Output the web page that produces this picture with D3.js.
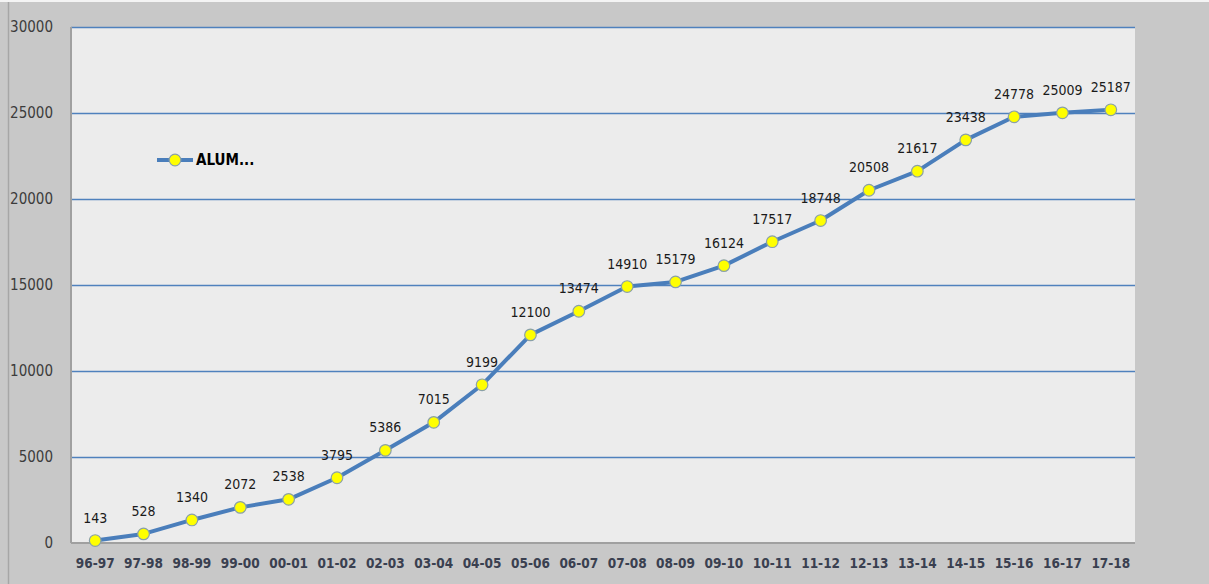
<!DOCTYPE html>
<html>
<head>
<meta charset="utf-8">
<script src="https://cdn.jsdelivr.net/npm/d3@7"></script>
<style>
  html, body { margin: 0; padding: 0; background: #c8c8c8; }
  svg { display: block; }
</style>
</head>
<body>
<div id="chart"></div>
<script>
// school years and enrolment (ALUM...)
var years = ['96-97', '97-98', '98-99', '99-00', '00-01', '01-02', '02-03', '03-04', '04-05', '05-06', '06-07',
             '07-08', '08-09', '09-10', '10-11', '11-12', '12-13', '13-14', '14-15', '15-16', '16-17', '17-18'];
var alumnos = [143, 528, 1340, 2072, 2538, 3795, 5386, 7015, 9199, 12100, 13474,
               14910, 15179, 16124, 17517, 18748, 20508, 21617, 23438, 24778, 25009, 25187];
var yTicks = [0, 5000, 10000, 15000, 20000, 25000, 30000];
var seriesName = 'ALUM...';

var WIDTH = 1209, HEIGHT = 584;
var margin = {left: 71, top: 27, right: 74, bottom: 41};
var w = WIDTH - margin.left - margin.right,
    h = HEIGHT - margin.top - margin.bottom;

var svg = d3.select('#chart').append('svg').attr('width', WIDTH).attr('height', HEIGHT);

svg.append('rect').attr('width', WIDTH).attr('height', HEIGHT).attr('fill', '#c8c8c8');
svg.append('rect').attr('width', WIDTH).attr('height', 2).attr('fill', '#f4f4f4');
svg.append('line').attr('x1', 8.5).attr('x2', 8.5).attr('y1', 2).attr('y2', HEIGHT)
    .attr('stroke', '#a6a6a6').attr('stroke-width', 1.5);

var g = svg.append('g').attr('transform', 'translate(' + margin.left + ',' + margin.top + ')');

var x = d3.scaleBand().domain(years).range([0, w]);
var y = d3.scaleLinear().domain([0, 30000]).range([h, 0]);

g.append('rect').attr('width', w).attr('height', h).attr('fill', '#ececec');

// gridlines
g.selectAll('.grid').data(yTicks.filter(function(d) { return d > 0; }))
  .enter().append('line')
    .attr('x1', 0).attr('x2', w)
    .attr('y1', function(d) { return Math.round(y(d)) + 0.5; })
    .attr('y2', function(d) { return Math.round(y(d)) + 0.5; })
    .attr('stroke', '#4f81bd').attr('stroke-width', 1.3);

// axes borders
g.append('line').attr('x1', 0).attr('x2', 0).attr('y1', 0).attr('y2', h)
  .attr('stroke', '#a0a0a0').attr('stroke-width', 2);
g.append('line').attr('x1', 0).attr('x2', w).attr('y1', h).attr('y2', h)
  .attr('stroke', '#a0a0a0').attr('stroke-width', 2);

// y labels
g.selectAll('.ylab').data(yTicks).enter().append('text')
  .attr('x', -18).attr('y', function(d) { return y(d); })
  .attr('dy', '0.35em').attr('text-anchor', 'end')
  .style('font-family', 'DejaVu Sans Condensed').style('font-size', '15px').attr('fill', '#3c3c3c')
  .text(function(d) { return d; });

// x labels
g.selectAll('.xlab').data(years).enter().append('text')
  .attr('x', function(d) { return x(d) + x.bandwidth() / 2; })
  .attr('y', h + 20).attr('dy', '0.35em').attr('text-anchor', 'middle')
  .style('font-family', 'DejaVu Sans Condensed').style('font-weight', 'bold')
  .style('font-size', '13.5px').attr('fill', '#3a4050')
  .text(function(d) { return d; });

var line = d3.line()
  .x(function(d, i) { return x(years[i]) + x.bandwidth() / 2; })
  .y(function(d) { return y(d); });

g.append('path').datum(alumnos).attr('d', line)
  .attr('fill', 'none').attr('stroke', '#4a7ebb').attr('stroke-width', 4)
  .attr('stroke-linejoin', 'round');

g.selectAll('.pt').data(alumnos).enter().append('circle')
  .attr('cx', function(d, i) { return x(years[i]) + x.bandwidth() / 2; })
  .attr('cy', function(d) { return y(d); })
  .attr('r', 5.8).attr('fill', '#ffff00').attr('stroke', '#8aa0a8').attr('stroke-width', 1.2);

g.selectAll('.val').data(alumnos).enter().append('text')
  .attr('x', function(d, i) { return x(years[i]) + x.bandwidth() / 2; })
  .attr('y', function(d) { return y(d) - 18; })
  .attr('text-anchor', 'middle')
  .style('font-family', 'DejaVu Sans Condensed').style('font-size', '14px').attr('fill', '#1a1a1a')
  .text(function(d) { return d; });

// legend
var leg = svg.append('g').attr('transform', 'translate(157,160)');
leg.append('line').attr('x1', 0).attr('x2', 36).attr('stroke', '#4a7ebb').attr('stroke-width', 4);
leg.append('circle').attr('cx', 18).attr('r', 5.8).attr('fill', '#ffff00')
  .attr('stroke', '#8aa0a8').attr('stroke-width', 1.2);
leg.append('text').attr('x', 39).attr('dy', '0.35em')
  .style('font-family', 'DejaVu Sans Condensed').style('font-weight', 'bold')
  .style('font-size', '15px').attr('fill', '#000')
  .text(seriesName);
</script>
</body>
</html>
